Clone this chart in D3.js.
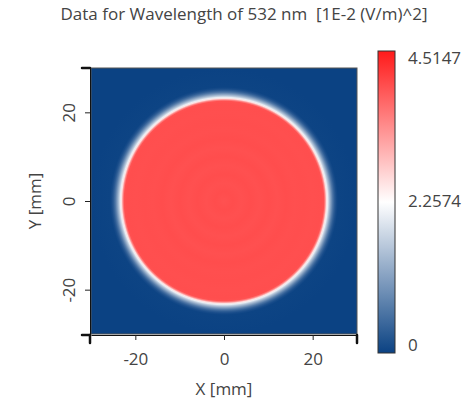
<!DOCTYPE html>
<html>
<head>
<meta charset="utf-8">
<script src="https://cdn.jsdelivr.net/npm/d3@7"></script>
<style>
  body { margin: 0; background: #fff; }
  text { font-family: "Open Sans", "Noto Sans", sans-serif; fill: #444; }
</style>
</head>
<body>
<script>
// chart values
const TITLE_TEXT = "Data for Wavelength of 532 nm  [1E-2 (V/m)^2]";
const xDomain = [-30, 30];
const yDomain = [-30, 30];
const xTicks = [-20, 0, 20];
const yTicks = [-20, 0, 20];
const valueDomain = [0, 2.2574, 4.5147];
const colorbarLabels = ["0", "2.2574", "4.5147"];
const beamCenter = [0, 0];
// radial profile of the field: radius in mm, value in 1E-2 (V/m)^2
const profileRadius = [0, 2, 4, 6, 8, 10, 12, 14, 16, 18, 20, 22, 22.5, 22.8, 23.1, 23.4, 23.7, 24.1, 24.5, 24.9, 25.3, 25.7, 30];
const profileValue  = [3.97, 4.01, 3.98, 4.01, 3.98, 4.01, 3.98, 4.01, 3.99, 4.00, 3.99, 4.00, 3.97, 3.45, 2.55, 2.05, 1.60, 1.10, 0.65, 0.32, 0.12, 0.02, 0];

const W = 462, H = 402;
const plot = { left: 91, right: 357, top: 68, bottom: 334 };
const bar = { x: 378, width: 17, top: 51, bottom: 353 };
const FONT = 17;

const svg = d3.select("body").append("svg")
  .attr("width", W)
  .attr("height", H);

const x = d3.scaleLinear().domain(xDomain).range([plot.left, plot.right]);
const y = d3.scaleLinear().domain(yDomain).range([plot.bottom, plot.top]);
const color = d3.scaleLinear()
  .domain(valueDomain)
  .range(["#0b4283", "#ffffff", "#ff1a1a"])
  .clamp(true);

const defs = svg.append("defs");

defs.append("clipPath").attr("id", "plotClip")
  .append("rect")
  .attr("x", plot.left).attr("y", plot.top)
  .attr("width", plot.right - plot.left)
  .attr("height", plot.bottom - plot.top);

// radial gradient from the profile arrays
const rMax = d3.max(profileRadius);
const radial = defs.append("radialGradient")
  .attr("id", "beam")
  .attr("cx", "50%").attr("cy", "50%").attr("r", "50%");
radial.selectAll("stop")
  .data(profileRadius)
  .enter().append("stop")
  .attr("offset", d => d / rMax)
  .attr("stop-color", (d, i) => color(profileValue[i]));

// vertical gradient for the colour bar
const barGrad = defs.append("linearGradient")
  .attr("id", "barGrad")
  .attr("x1", 0).attr("y1", 1).attr("x2", 0).attr("y2", 0);
barGrad.selectAll("stop")
  .data(d3.range(0, 1.0001, 0.05))
  .enter().append("stop")
  .attr("offset", d => d)
  .attr("stop-color", d => color(d * valueDomain[2]));

// heat map
const field = svg.append("g").attr("clip-path", "url(#plotClip)");
field.append("rect")
  .attr("x", plot.left).attr("y", plot.top)
  .attr("width", plot.right - plot.left)
  .attr("height", plot.bottom - plot.top)
  .attr("fill", color(0));
field.append("circle")
  .attr("cx", x(beamCenter[0]))
  .attr("cy", y(beamCenter[1]))
  .attr("r", x(rMax) - x(0))
  .attr("fill", "url(#beam)");

svg.append("rect")
  .attr("x", plot.left).attr("y", plot.top)
  .attr("width", plot.right - plot.left)
  .attr("height", plot.bottom - plot.top)
  .attr("fill", "none")
  .attr("stroke", "#555")
  .attr("stroke-width", 1);

// axes (plain hyphen for negatives, as in the original)
const fmt = d => String(d);
const xAxis = svg.append("g")
  .attr("transform", `translate(0,${plot.bottom + 1})`)
  .call(d3.axisBottom(x).tickValues(xTicks).tickSize(5).tickSizeOuter(0).tickFormat(fmt));
const yAxis = svg.append("g")
  .attr("transform", `translate(${plot.left - 1},0)`)
  .call(d3.axisLeft(y).tickValues(yTicks).tickSize(5).tickSizeOuter(0).tickFormat(fmt));

[xAxis, yAxis].forEach(a => {
  a.select(".domain").attr("stroke", "#111");
  a.selectAll(".tick line").attr("stroke", "#222");
  a.selectAll("text")
    .attr("font-family", null)
    .attr("font-size", FONT)
    .attr("fill", "#444");
});
xAxis.selectAll(".tick text").attr("y", 30).attr("dy", null);
yAxis.selectAll(".tick text")
  .attr("x", null).attr("dy", null)
  .attr("text-anchor", "middle")
  .attr("transform", "translate(-15,0) rotate(-90)");

// heavier end marks at the axis corners
const ends = svg.append("g").attr("stroke", "#111").attr("stroke-width", 2.5).attr("stroke-linecap", "round");
ends.append("line").attr("x1", plot.left - 1).attr("x2", plot.left - 1).attr("y1", plot.bottom + 1).attr("y2", plot.bottom + 9);
ends.append("line").attr("x1", plot.right).attr("x2", plot.right).attr("y1", plot.bottom + 1).attr("y2", plot.bottom + 9);
ends.append("line").attr("x1", plot.left - 1).attr("x2", plot.left - 9).attr("y1", plot.top).attr("y2", plot.top);
ends.append("line").attr("x1", plot.left - 1).attr("x2", plot.left - 9).attr("y1", plot.bottom + 1).attr("y2", plot.bottom + 1);

// axis titles
svg.append("text")
  .attr("x", x(0)).attr("y", 395)
  .attr("text-anchor", "middle")
  .attr("font-size", FONT)
  .text("X [mm]");
svg.append("text")
  .attr("transform", `translate(41,${y(0)}) rotate(-90)`)
  .attr("text-anchor", "middle")
  .attr("font-size", FONT)
  .text("Y [mm]");

// title
svg.append("text")
  .attr("x", 244).attr("y", 20)
  .attr("text-anchor", "middle")
  .attr("font-size", FONT)
  .style("white-space", "pre")
  .text(TITLE_TEXT);

// colour bar
svg.append("rect")
  .attr("x", bar.x).attr("y", bar.top)
  .attr("width", bar.width)
  .attr("height", bar.bottom - bar.top)
  .attr("fill", "url(#barGrad)")
  .attr("stroke", "#333")
  .attr("stroke-width", 1);

const barLabelY = d3.scaleLinear().domain([0, valueDomain[2]]).range([bar.bottom - 8, bar.top + 7]);
svg.append("g").selectAll("text")
  .data(valueDomain)
  .enter().append("text")
  .attr("x", 408)
  .attr("y", d => barLabelY(d))
  .attr("dy", "0.35em")
  .attr("font-size", FONT)
  .text((d, i) => colorbarLabels[i]);
</script>
</body>
</html>
